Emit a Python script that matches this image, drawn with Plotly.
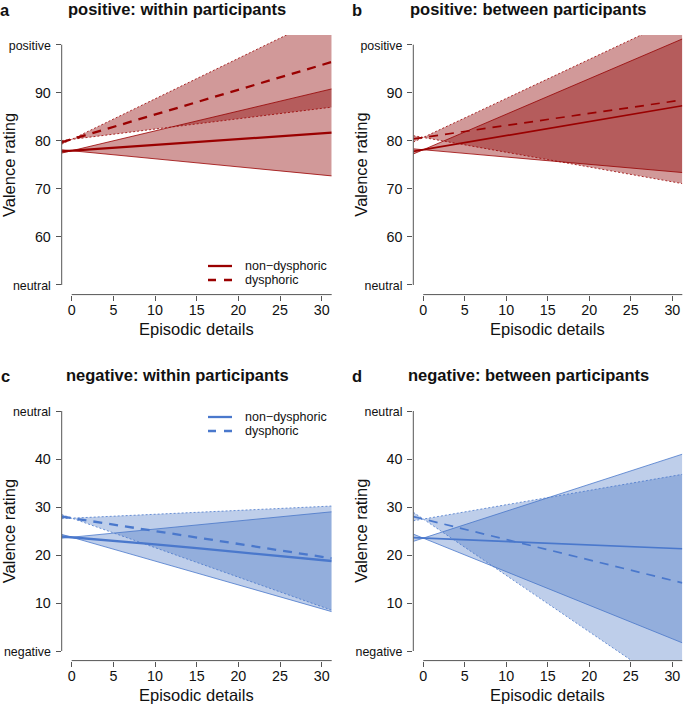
import plotly.graph_objects as go

W, H = 683, 706
FONT = "Liberation Sans, Arial, Helvetica, sans-serif"

# ---------------- data ----------------
# x positions where the fitted lines / confidence bands are evaluated (edges of the shown range)
DETAILS = [-1.2, 31.2]
X_TICKS = [0, 5, 10, 15, 20, 25, 30]

POS_TICKS = [50, 60, 70, 80, 90, 100]
POS_LABELS = ["neutral", "60", "70", "80", "90", "positive"]
NEG_TICKS = [0, 10, 20, 30, 40, 50]
NEG_LABELS = ["negative", "10", "20", "30", "40", "neutral"]

# a: positive, within participants
a_nd_line = [77.8, 81.7]
a_nd_up = [77.45, 90.8]
a_nd_lo = [78.14, 72.7]
a_d_line = [79.7, 96.4]
a_d_up = [79.3, 106.6]
a_d_lo = [80.04, 87.0]

# b: positive, between participants
b_nd_line = [77.8, 87.3]
b_nd_up = [77.26, 101.2]
b_nd_lo = [78.33, 73.4]
b_d_line = [80.4, 88.5]
b_d_up = [79.73, 106.05]
b_d_lo = [81.07, 71.1]

# c: negative, within participants
c_nd_x = [-1.2, 10, 20, 31.2]
c_nd_line = [23.85, 22.2, 20.6, 18.75]
c_nd_up = [23.5, 29.0]
c_nd_lo = [24.3, 8.2]
c_d_line = [28.0, 19.3]
c_d_up = [27.58, 30.2]
c_d_lo = [28.42, 8.5]

# d: negative, between participants
d_nd_line = [23.6, 21.3]
d_nd_up = [22.84, 41.0]
d_nd_lo = [24.35, 1.7]
d_d_line = [28.0, 14.2]
d_d_up = [27.13, 36.8]
d_d_lo = [28.9, -9.17]

GROUPS = ["non\u2212dysphoric", "dysphoric"]

RED = "#9a0000"
RED_FILL = "rgba(139,0,0,0.40)"
BLUE = "#4a78cc"
BLUE_FILL = "rgba(68,114,196,0.35)"

X_RANGE = [-1.2, 31.2]
POS_RANGE = [48, 102]
NEG_RANGE = [-2, 52]

# ---------------- layout geometry (pixels) ----------------
def px(x):
    return x / W

def py(y):
    return 1 - y / H

COL_X = [(61.7, 331.7), (413.3, 682.3)]
ROW_Y = [(35.1, 294.6), (401.4, 660.6)]

fig = go.Figure()

panels = [
    dict(name="a", title="positive: within participants", row=0, col=0, rng=POS_RANGE,
         ticks=POS_TICKS, labels=POS_LABELS, color=RED, fill=RED_FILL, lw=2.3,
         nd=(DETAILS, a_nd_line), nd_up=a_nd_up, nd_lo=a_nd_lo,
         d=(DETAILS, a_d_line), d_up=a_d_up, d_lo=a_d_lo, legend=True),
    dict(name="b", title="positive: between participants", row=0, col=1, rng=POS_RANGE,
         ticks=POS_TICKS, labels=POS_LABELS, color=RED, fill=RED_FILL, lw=1.7,
         nd=(DETAILS, b_nd_line), nd_up=b_nd_up, nd_lo=b_nd_lo,
         d=(DETAILS, b_d_line), d_up=b_d_up, d_lo=b_d_lo, legend=False),
    dict(name="c", title="negative: within participants", row=1, col=0, rng=NEG_RANGE,
         ticks=NEG_TICKS, labels=NEG_LABELS, color=BLUE, fill=BLUE_FILL, lw=2.3,
         nd=(c_nd_x, c_nd_line), nd_up=c_nd_up, nd_lo=c_nd_lo,
         d=(DETAILS, c_d_line), d_up=c_d_up, d_lo=c_d_lo, legend=True),
    dict(name="d", title="negative: between participants", row=1, col=1, rng=NEG_RANGE,
         ticks=NEG_TICKS, labels=NEG_LABELS, color=BLUE, fill=BLUE_FILL, lw=1.7,
         nd=(DETAILS, d_nd_line), nd_up=d_nd_up, nd_lo=d_nd_lo,
         d=(DETAILS, d_d_line), d_up=d_d_up, d_lo=d_d_lo, legend=False),
]

annotations = []
shapes = []
AX_COLOR = "#555555"
TXT = "#111111"

for i, p in enumerate(panels):
    k = "" if i == 0 else str(i + 1)
    xa, ya = "x" + k, "y" + k
    x0, x1 = COL_X[p["col"]]
    y0, y1 = ROW_Y[p["row"]]
    xdom = [px(x0), px(x1)]
    ydom = [py(y1), py(y0)]

    def band(up, lo, dash):
        xs = DETAILS + DETAILS[::-1]
        ys = up + lo[::-1]
        fig.add_trace(go.Scatter(x=xs, y=ys, xaxis=xa, yaxis=ya, mode="lines", fill="toself",
                                 fillcolor=p["fill"], line=dict(width=0), hoverinfo="skip",
                                 showlegend=False))
        for edge in (up, lo):
            fig.add_trace(go.Scatter(x=DETAILS, y=edge, xaxis=xa, yaxis=ya, mode="lines",
                                     line=dict(color=p["color"], width=0.8, dash=dash),
                                     hoverinfo="skip", showlegend=False))

    band(p["nd_up"], p["nd_lo"], "solid")
    band(p["d_up"], p["d_lo"], "2px,2px")

    fig.add_trace(go.Scatter(x=p["nd"][0], y=p["nd"][1], xaxis=xa, yaxis=ya, mode="lines",
                             line=dict(color=p["color"], width=p["lw"], shape="spline"),
                             name=GROUPS[0], showlegend=False))
    fig.add_trace(go.Scatter(x=p["d"][0], y=p["d"][1], xaxis=xa, yaxis=ya, mode="lines",
                             line=dict(color=p["color"], width=p["lw"], dash="9px,7px"),
                             name=GROUPS[1], showlegend=False))

    ticktext = [
        lab if lab.isdigit() else '<span style="font-size:12.4px">%s</span>' % lab
        for lab in p["labels"]
    ]
    fig.update_layout(**{
        ("xaxis" + k): dict(domain=xdom, anchor=ya, range=X_RANGE, tickvals=X_TICKS,
                            showgrid=False, zeroline=False, showline=False,
                            ticks="outside", ticklen=5, tickwidth=1, tickcolor=AX_COLOR,
                            ticklabelstandoff=-3, fixedrange=True,
                            tickfont=dict(size=14.3, color=TXT, family=FONT)),
        ("yaxis" + k): dict(domain=ydom, anchor=xa, range=p["rng"], tickvals=p["ticks"],
                            ticktext=ticktext, showgrid=False, zeroline=False, showline=False,
                            ticks="outside", ticklen=5, tickwidth=1, tickcolor=AX_COLOR,
                            ticklabelstandoff=2, fixedrange=True,
                            tickfont=dict(size=14.3, color=TXT, family=FONT)),
    })

    # axis lines spanning only the labelled range (R style)
    r0, r1 = p["rng"]
    def yp(v):
        return ydom[0] + (v - r0) / (r1 - r0) * (ydom[1] - ydom[0])
    def xpv(v):
        return xdom[0] + (v - X_RANGE[0]) / (X_RANGE[1] - X_RANGE[0]) * (xdom[1] - xdom[0])
    shapes.append(dict(type="line", xref="paper", yref="paper", x0=xdom[0], x1=xdom[0],
                       y0=yp(p["ticks"][0]), y1=yp(p["ticks"][-1]),
                       line=dict(color=AX_COLOR, width=1)))
    shapes.append(dict(type="line", xref="paper", yref="paper", x0=xpv(X_TICKS[0]), x1=xdom[1],
                       y0=ydom[0], y1=ydom[0], line=dict(color=AX_COLOR, width=1)))

    # panel letter and title
    top = y0
    annotations.append(dict(text="<b>%s</b>" % p["name"], x=px(x0 - 56.7), y=py(top - 25.5),
                            xref="paper", yref="paper", showarrow=False, xanchor="center",
                            yanchor="middle", font=dict(size=16.5, color=TXT, family=FONT)))
    annotations.append(dict(text="<b>%s</b>" % p["title"], x=px(x0 + 115.3), y=py(top - 26.5),
                            xref="paper", yref="paper", showarrow=False, xanchor="center",
                            yanchor="middle", font=dict(size=16.5, color=TXT, family=FONT)))
    # axis titles
    annotations.append(dict(text="Valence rating", x=px(x0 - 52.5), y=py((y0 + y1) / 2),
                            xref="paper", yref="paper", showarrow=False, textangle=-90,
                            xanchor="center", yanchor="middle",
                            font=dict(size=16.5, color=TXT, family=FONT)))
    annotations.append(dict(text="Episodic details", x=px((x0 + x1) / 2), y=py(y1 + 34.5),
                            xref="paper", yref="paper", showarrow=False, xanchor="center",
                            yanchor="middle", font=dict(size=16.5, color=TXT, family=FONT)))

    if p["legend"]:
        ly = [y1 - 28.6, y1 - 14.6] if p["row"] == 0 else [y0 + 15.6, y0 + 29.6]
        for j, g in enumerate(GROUPS):
            shapes.append(dict(type="line", xref="paper", yref="paper", x0=px(208), x1=px(232),
                               y0=py(ly[j]), y1=py(ly[j]),
                               line=dict(color=p["color"], width=p["lw"],
                                         dash="solid" if j == 0 else "8px,8px")))
            annotations.append(dict(text=g, x=px(243), y=py(ly[j]), xref="paper", yref="paper",
                                    showarrow=False, xanchor="left", yanchor="middle",
                                    font=dict(size=12.5, color=TXT, family=FONT)))

fig.update_layout(width=W, height=H, margin=dict(l=0, r=0, t=0, b=0),
                  paper_bgcolor="white", plot_bgcolor="rgba(0,0,0,0)",
                  showlegend=False, hovermode=False, dragmode=False,
                  annotations=annotations, shapes=shapes,
                  font=dict(family=FONT, color=TXT))

# remove the browser's default page margin so the figure fills the window exactly
fig.write_html("out.html", config={"displayModeBar": False, "staticPlot": True},
               post_script="document.body.style.margin='0';"
                           "document.body.style.overflow='hidden';")
